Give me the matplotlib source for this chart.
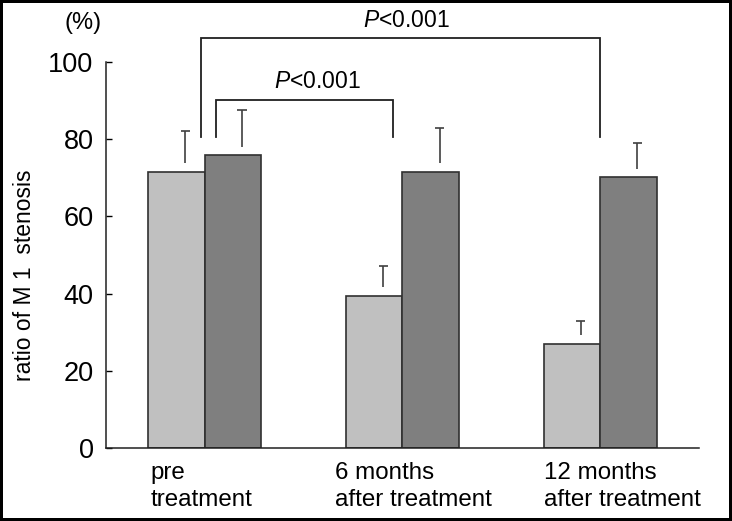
import numpy as np
import matplotlib.pyplot as plt

plt.rcParams['font.family'] = ['Liberation Sans', 'DejaVu Sans']
plt.rcParams['mathtext.fontset'] = 'custom'
plt.rcParams['mathtext.rm'] = 'Liberation Sans'
plt.rcParams['mathtext.it'] = 'Liberation Sans:italic'

# data
groups = ['pre\ntreatment', '6 months\nafter treatment', '12 months\nafter treatment']
light_mean = [71.6, 39.4, 27.0]
light_sd = [10.5, 7.8, 5.9]
dark_mean = [75.8, 71.6, 70.1]
dark_sd = [11.8, 11.2, 8.8]
yticks = [0, 20, 40, 60, 80, 100]
p_text = r'$P$<0.001'

light_col = '#c0c0c0'
dark_col = '#7f7f7f'
edge_col = '#303030'

fig = plt.figure(figsize=(7.32, 5.21), dpi=100, facecolor='white',
                 edgecolor='black', linewidth=3)
ax = fig.add_axes([106/732, 1-448/521, (699-106)/732, (448-62)/521])

x = np.arange(len(groups))
w = 0.286
ax.bar(x - w/2, light_mean, w, color=light_col, edgecolor=edge_col, linewidth=1.2)
ax.bar(x + w/2, dark_mean, w, color=dark_col, edgecolor=edge_col, linewidth=1.2)

# upper error bars, shifted a bit right and not touching the bar top
off = 0.045
gap = 2.3
cap = 0.023
for xs, m, s in [(x - w/2, light_mean, light_sd), (x + w/2, dark_mean, dark_sd)]:
    m = np.array(m)
    s = np.array(s)
    xe = xs + off
    ax.vlines(xe, m + gap, m + s, color='#404040', linewidth=1.2)
    ax.hlines(m + s, xe - cap, xe + cap, color='#404040', linewidth=1.2)

# significance brackets
def bracket(x1, x2, ylow, ytop):
    ax.plot([x1, x1, x2, x2], [ylow, ytop, ytop, ylow], color='#202020',
            linewidth=1.3, clip_on=False, solid_joinstyle='miter')

bracket(-0.019, 1.997, 80.5, 106.1)
bracket(0.055, 0.95, 80.5, 90.2)
ax.text(1.022, 109.1, p_text, ha='center', va='baseline', fontsize=16.5, clip_on=False)
ax.text(0.567, 93.2, p_text, ha='center', va='baseline', fontsize=16.5)

ax.set_xlim(-0.5, 2.5)
ax.set_ylim(0, 100)
ax.set_yticks(yticks)
ax.set_xticks([])
ax.tick_params(axis='y', direction='in', length=4, width=1, labelsize=19.5, pad=9)
for side in ['top', 'right']:
    ax.spines[side].set_visible(False)
for side in ['left', 'bottom']:
    ax.spines[side].set_linewidth(1.1)
    ax.spines[side].set_color('#202020')

# category labels, left aligned under the groups
label_x = [-0.276, 0.661, 1.717]
trans = ax.get_xaxis_transform()
for lx, g in zip(label_x, groups):
    ax.text(lx, -0.036, g, transform=trans, ha='left', va='top',
            fontsize=17.4, linespacing=1.3)

fig.text(25/732, 1-275/521, 'ratio of M 1  stenosis', rotation=90,
         ha='center', va='center', fontsize=16.5)
fig.text(83.5/732, 1-22.5/521, '(%)', ha='center', va='center', fontsize=17)

fig.savefig('out.png', dpi=100)
